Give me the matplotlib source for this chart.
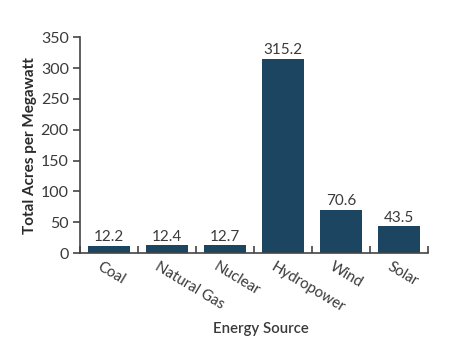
import numpy as np
import matplotlib
matplotlib.use("Agg")
import matplotlib.pyplot as plt
import matplotlib.transforms as mtransforms

# Datos del gráfico
fuentes = ["Coal", "Natural Gas", "Nuclear", "Hydropower", "Wind", "Solar"]
acres = [12.2, 12.4, 12.7, 315.2, 70.6, 43.5]
marcas_y = [0, 50, 100, 150, 200, 250, 300, 350]

plt.rcParams['font.family'] = ['Lato', 'DejaVu Sans']
color_barra = "#1b4560"
color_texto = "#3a3a3a"

fig = plt.figure(figsize=(4.54, 3.54), dpi=100)
ax = fig.add_axes([0.176, 0.285, 0.767, 0.61])

x = np.arange(len(fuentes))
barras = ax.bar(x, acres, width=0.72, color=color_barra, zorder=2)

# Etiquetas de valor sobre cada barra
for xi, v in zip(x, acres):
    ax.text(xi, v + 2, f"{v}", ha="center", va="bottom", fontsize=11, color=color_texto)

ax.set_xlim(-0.5, len(fuentes) - 0.5)
ax.set_ylim(0, 350)
ax.set_yticks(marcas_y)

# Ejes: solo izquierdo e inferior
for lado in ["top", "right"]:
    ax.spines[lado].set_visible(False)
for lado in ["left", "bottom"]:
    ax.spines[lado].set_color("#444444")
    ax.spines[lado].set_linewidth(1.2)

ax.tick_params(axis="y", direction="out", length=5, width=1.2, color="#444444",
               labelsize=11.5, labelcolor=color_texto, pad=3)

# Marcas del eje x entre barras, hacia adentro
ax.set_xticks(x)
ax.set_xticks(np.arange(-0.5, len(fuentes)), minor=True)
ax.tick_params(axis="x", which="major", length=0, labelsize=10.8, labelcolor=color_texto, pad=5)
ax.tick_params(axis="x", which="minor", direction="in", length=5, width=1.2, color="#444444")
ax.set_xticklabels(fuentes, rotation=-31, ha="left", rotation_mode="anchor")
desplazar = mtransforms.ScaledTranslation(-7 / 100, 0, fig.dpi_scale_trans)
for etiqueta in ax.get_xticklabels():
    etiqueta.set_transform(etiqueta.get_transform() + desplazar)

ax.set_ylabel("Total Acres per Megawatt", fontsize=11, fontweight="bold", color="#2a2a2a", labelpad=3)
ax.set_xlabel("Energy Source", fontsize=10.8, fontweight="semibold", color=color_texto)
ax.xaxis.set_label_coords(0.52, -0.32)

fig.savefig("out.png", dpi=100)
